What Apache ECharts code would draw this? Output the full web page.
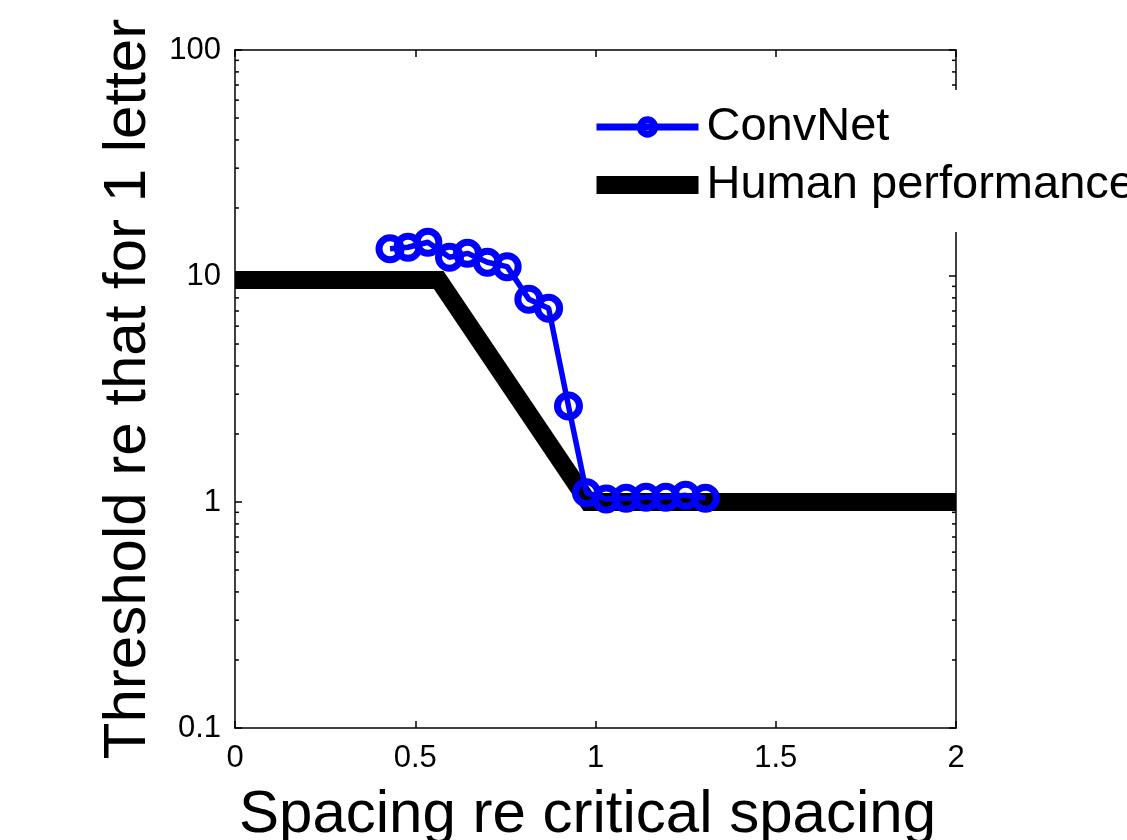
<!DOCTYPE html>
<html>
<head>
<meta charset="utf-8">
<script src="https://cdn.jsdelivr.net/npm/echarts@6/dist/echarts.min.js"></script>
<style>
  html, body { margin: 0; padding: 0; background: #fff; }
  #chart { width: 1127px; height: 840px; }
</style>
</head>
<body>
<div id="chart"></div>
<script>
// Spacing (re critical spacing) and threshold (re that for 1 letter)
const convNetSpacing = [0.43, 0.48, 0.535, 0.595, 0.645, 0.70, 0.755, 0.815, 0.87, 0.925, 0.975, 1.03, 1.085, 1.14, 1.195, 1.25, 1.305];
const convNetThreshold = [13.2, 13.4, 14.1, 12.1, 12.6, 11.5, 11.0, 7.9, 7.2, 2.66, 1.10, 1.03, 1.04, 1.05, 1.05, 1.07, 1.04];

const humanSpacing = [0, 0.565, 0.98, 2];
const humanThreshold = [9.6, 9.6, 1, 1];

const xTicks = [0, 0.5, 1, 1.5, 2];
const yTicks = [0.1, 1, 10, 100];
const yMinorTicks = [0.2, 0.3, 0.4, 0.5, 0.6, 0.7, 0.8, 0.9,
                     2, 3, 4, 5, 6, 7, 8, 9,
                     20, 30, 40, 50, 60, 70, 80, 90];

const FONT = 'Liberation Sans, Arial, Helvetica, sans-serif';
const BLUE = '#0000ff';

const zip = (xs, ys) => xs.map((x, i) => [x, ys[i]]);

const chart = echarts.init(document.getElementById('chart'), null, { renderer: 'canvas' });

// frame edges: black line, short ticks pointing into the plot
const axisLine = () => ({ show: true, onZero: false, lineStyle: { color: '#000', width: 1.5 } });
const axisTick = () => ({ show: true, inside: true, length: 7, lineStyle: { color: '#000', width: 1.5 } });

chart.setOption({
  animation: false,
  backgroundColor: '#fff',
  textStyle: { fontFamily: FONT },
  grid: { left: 235, right: 171, top: 50, bottom: 112, containLabel: false, outerBoundsMode: 'none' },
  legend: {
    data: [
      {
        name: 'ConvNet',
        lineStyle: { color: BLUE, width: 7 },
        itemStyle: { color: 'rgba(0,0,0,0)', borderColor: BLUE, borderWidth: 7 }
      },
      {
        name: 'Human performance',
        icon: 'rect',
        itemStyle: { color: '#000', borderWidth: 0 }
      }
    ],
    orient: 'vertical',
    left: 585,
    top: 90,
    padding: [12, 0, 22, 8],
    backgroundColor: '#fff',
    itemWidth: 102,
    itemHeight: 18,
    itemGap: 8,
    selectedMode: false,
    textStyle: { fontFamily: FONT, fontSize: 47, lineHeight: 50, color: '#000', padding: [0, 0, 0, 3] }
  },
  xAxis: [
    {
      type: 'value', position: 'bottom', min: 0, max: 2, interval: 0.5,
      axisLine: axisLine(), axisTick: axisTick(), splitLine: { show: false },
      axisLabel: {
        fontFamily: FONT, fontSize: 31, color: '#000', margin: 15,
        formatter: v => (xTicks.includes(v) ? String(v) : '')
      },
      name: 'Spacing re critical spacing', nameLocation: 'middle', nameGap: 57,
      nameTextStyle: { fontFamily: FONT, fontSize: 60, color: '#000', padding: [0, 16, 0, 0] }
    },
    {
      type: 'value', position: 'top', min: 0, max: 2, interval: 0.5,
      axisLine: axisLine(), axisTick: axisTick(), axisLabel: { show: false }, splitLine: { show: false }
    }
  ],
  yAxis: [
    {
      type: 'log', logBase: 10, position: 'left', min: 0.1, max: 100,
      axisLine: axisLine(), axisTick: axisTick(), splitLine: { show: false },
      axisLabel: {
        fontFamily: FONT, fontSize: 31, color: '#000', margin: 14,
        formatter: v => {
          const t = yTicks.find(k => Math.abs(k - v) / k < 1e-6);
          return t === undefined ? '' : String(t);
        }
      },
      name: 'Threshold re that for 1 letter', nameLocation: 'middle', nameGap: 67,
      nameTextStyle: { fontFamily: FONT, fontSize: 60, color: '#000' }
    },
    {
      type: 'log', logBase: 10, position: 'right', min: 0.1, max: 100,
      axisLine: axisLine(), axisTick: axisTick(), axisLabel: { show: false }, splitLine: { show: false }
    }
  ],
  series: [
    {
      // minor log ticks on the left and right frame edges
      type: 'custom',
      silent: true,
      xAxisIndex: 0, yAxisIndex: 0,
      clip: false,
      z: 3,
      data: yMinorTicks.map(v => [0, v]),
      renderItem: (params, api) => {
        const v = api.value(1);
        const l = api.coord([0, v]);
        const r = api.coord([2, v]);
        const st = { stroke: '#000', lineWidth: 1.5 };
        return {
          type: 'group',
          children: [
            { type: 'line', shape: { x1: l[0], y1: l[1], x2: l[0] + 4, y2: l[1] }, style: st },
            { type: 'line', shape: { x1: r[0] - 4, y1: r[1], x2: r[0], y2: r[1] }, style: st }
          ]
        };
      }
    },
    {
      name: 'Human performance',
      type: 'line',
      data: zip(humanSpacing, humanThreshold),
      symbol: 'none',
      lineStyle: { color: '#000', width: 18, cap: 'butt', join: 'miter' },
      itemStyle: { color: '#000' },
      z: 2
    },
    {
      name: 'ConvNet',
      type: 'line',
      data: zip(convNetSpacing, convNetThreshold),
      symbol: 'circle',
      symbolSize: 22,
      showAllSymbol: true,
      lineStyle: { color: BLUE, width: 5.5 },
      itemStyle: { color: 'rgba(0,0,0,0)', borderColor: BLUE, borderWidth: 7 },
      z: 2
    }
  ]
});
</script>
</body>
</html>
